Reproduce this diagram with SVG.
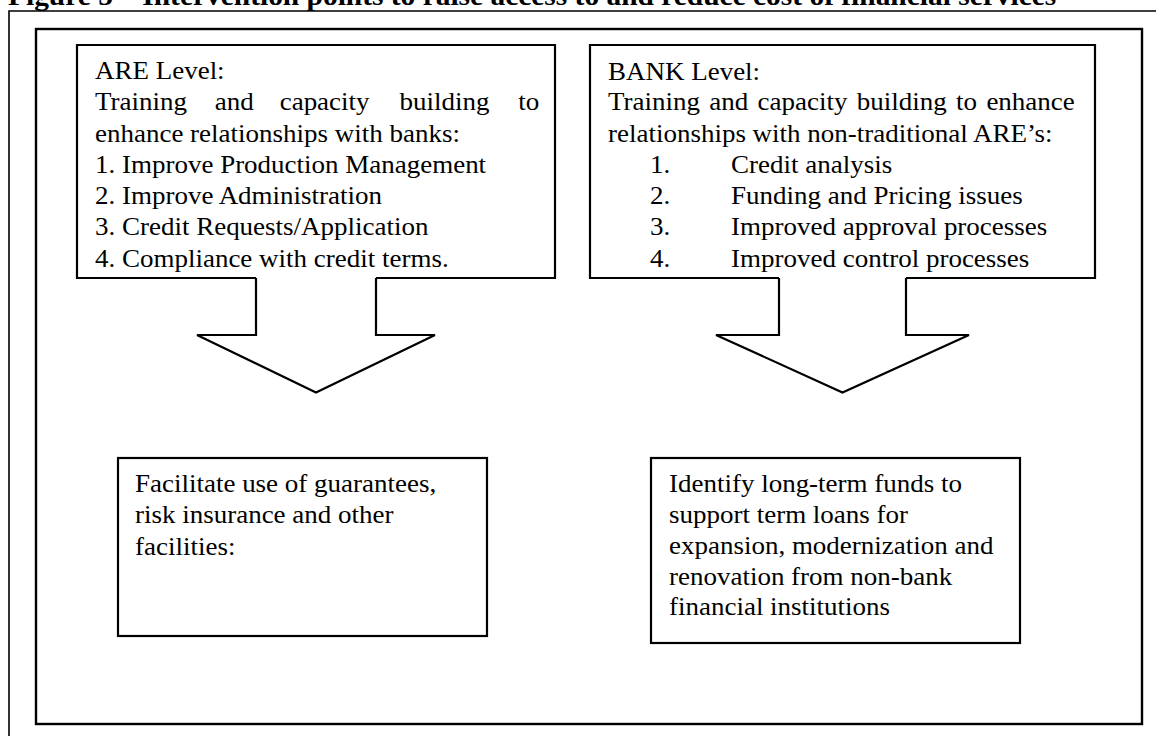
<svg xmlns="http://www.w3.org/2000/svg" width="1156" height="736" viewBox="0 0 1156 736">
<style>
  .t { font-family: "Liberation Serif", "Times New Roman", serif; font-size: 25px; fill: #000; }
  .title { font-family: "Liberation Serif", "Times New Roman", serif; font-size: 27px; font-weight: bold; fill: #000; }
  .box { fill: none; stroke: #000; stroke-width: 2.2; }
  .frame { fill: none; stroke: #000; }
  .arrow { fill: none; stroke: #000; stroke-width: 2.2; stroke-linejoin: miter; }
</style>
<rect x="0" y="0" width="1156" height="736" fill="#fff"/>

<g id="title">
  <text class="title" transform="translate(8 5) scale(1.09 1)">Figure 5 – Intervention points to raise access to and reduce cost of financial services</text>
</g>

<g id="frames">
  <path class="frame" stroke-width="1.6" d="M9,736 V11 H1156"/>
  <rect class="frame" stroke-width="2.4" x="36" y="29" width="1106" height="695"/>
</g>

<g id="are-level">
  <path class="box" d="M256,278 H77 V45 H555 V278 H376"/>
  <text class="t" transform="translate(95 79) scale(1.08 1)">ARE Level:</text>
  <text class="t" transform="translate(95 110) scale(1.08 1)"><tspan x="0">Training</tspan><tspan x="111">and</tspan><tspan x="171">capacity</tspan><tspan x="282">building</tspan><tspan x="392">to</tspan></text>
  <text class="t" transform="translate(95 142) scale(1.08 1)">enhance relationships with banks:</text>
  <text class="t" transform="translate(95 173) scale(1.08 1)">1. Improve Production Management</text>
  <text class="t" transform="translate(95 204) scale(1.08 1)">2. Improve Administration</text>
  <text class="t" transform="translate(95 235) scale(1.08 1)">3. Credit Requests/Application</text>
  <text class="t" transform="translate(95 267) scale(1.08 1)">4. Compliance with credit terms.</text>
</g>

<g id="bank-level">
  <path class="box" d="M779,278 H590 V45 H1095 V278 H906"/>
  <text class="t" transform="translate(608 80) scale(1.08 1)">BANK Level:</text>
  <text class="t" transform="translate(608 110) scale(1.08 1)" word-spacing="2.4">Training and capacity building to enhance</text>
  <text class="t" transform="translate(608 142) scale(1.08 1)">relationships with non-traditional ARE’s:</text>
  <text class="t" transform="translate(608 173) scale(1.08 1)"><tspan x="39">1.</tspan><tspan x="114">Credit analysis</tspan></text>
  <text class="t" transform="translate(608 204) scale(1.08 1)"><tspan x="39">2.</tspan><tspan x="114">Funding and Pricing issues</tspan></text>
  <text class="t" transform="translate(608 235) scale(1.08 1)"><tspan x="39">3.</tspan><tspan x="114">Improved approval processes</tspan></text>
  <text class="t" transform="translate(608 267) scale(1.08 1)"><tspan x="39">4.</tspan><tspan x="114">Improved control processes</tspan></text>
</g>

<g id="guarantees">
  <rect class="box" x="118" y="458" width="369" height="178"/>
  <text class="t" transform="translate(135 492) scale(1.08 1)">Facilitate use of guarantees,</text>
  <text class="t" transform="translate(135 523) scale(1.08 1)">risk insurance and other</text>
  <text class="t" transform="translate(135 555) scale(1.08 1)">facilities:</text>
</g>

<g id="long-term-funds">
  <rect class="box" x="651" y="458" width="369" height="185"/>
  <text class="t" transform="translate(669 492) scale(1.08 1)">Identify long-term funds to</text>
  <text class="t" transform="translate(669 523) scale(1.08 1)">support term loans for</text>
  <text class="t" transform="translate(669 554) scale(1.08 1)">expansion, modernization and</text>
  <text class="t" transform="translate(669 585) scale(1.08 1)">renovation from non-bank</text>
  <text class="t" transform="translate(669 615) scale(1.08 1)">financial institutions</text>
</g>

<g id="connectors">
  <path class="arrow" d="M256,278 V335 H197 L316,392.6 L435,335 H376 V278"/>
  <path class="arrow" d="M779,278 V335 H716 L842.5,392.5 L969,335 H906 V278"/>
</g>
</svg>
